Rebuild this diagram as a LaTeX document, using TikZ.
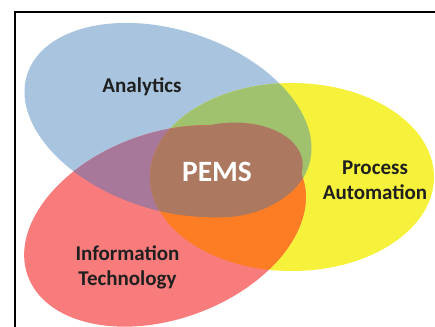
\documentclass[tikz,border=0pt]{standalone}
\usepackage{xcolor}
\usepackage{fontspec}
\setmainfont{Carlito}
\usepackage{tikz}
\usetikzlibrary{positioning}

\definecolor{anablue}{RGB}{168,196,222}
\definecolor{procyellow}{RGB}{246,242,60}
\definecolor{infored}{RGB}{249,124,125}
\definecolor{mixgreen}{RGB}{160,194,110}
\definecolor{mixorange}{RGB}{252,125,35}
\definecolor{mixpurple}{RGB}{168,120,155}
\definecolor{corebrown}{RGB}{172,120,95}

\begin{document}
\begin{tikzpicture}[x=1pt, y=-1pt]
    % Define styles
    \tikzstyle{venntext} = [font=\fontsize{21}{25}\selectfont\bfseries, text=black!88, align=center, inner sep=0pt]
    \tikzstyle{coretext} = [font=\fontsize{29.5}{32}\selectfont\bfseries, text=white, inner sep=0pt]
    \tikzstyle{anashape} = [x radius=148, y radius=90, rotate=-18]
    \tikzstyle{procshape} = [x radius=142, y radius=94]
    \tikzstyle{infoshape} = [x radius=146, y radius=93, rotate=20]
    \tikzstyle{coreshape} = [x radius=76, y radius=47, rotate=6]

    \useasboundingbox (0,0) rectangle (435,326);

    % Centres
    \coordinate (ana) at (168,120);
    \coordinate (proc) at (292,177);
    \coordinate (info) at (165,226);
    \coordinate (core) at (227,170);

    % Sets
    \fill[anablue] (ana) ellipse [anashape];
    \fill[procyellow] (proc) ellipse [procshape];
    \fill[infored] (info) ellipse [infoshape];

    % Overlaps
    \begin{scope}
        \clip (ana) ellipse [anashape];
        \fill[mixgreen] (proc) ellipse [procshape];
        \fill[mixpurple] (info) ellipse [infoshape];
    \end{scope}
    \begin{scope}
        \clip (info) ellipse [infoshape];
        \fill[mixorange] (proc) ellipse [procshape];
        \clip (ana) ellipse [anashape];
        \fill[corebrown] (proc) ellipse [procshape];
    \end{scope}
    \fill[corebrown] (core) ellipse [coreshape];

    % Labels
    \node[venntext, anchor=base] (analytics) at (142,92.5) {Analytics};
    \node[coretext, anchor=base] (pems) at (217,181.5) {PEMS};
    \node[venntext] (automation) at (375,180) {Process\\Automation};
    \node[venntext] (technology) at (127.5,267.5) {Information\\Technology};

    % Frame
    \draw[line width=2pt] (15,330) |- (440,12);
\end{tikzpicture}
\end{document}
